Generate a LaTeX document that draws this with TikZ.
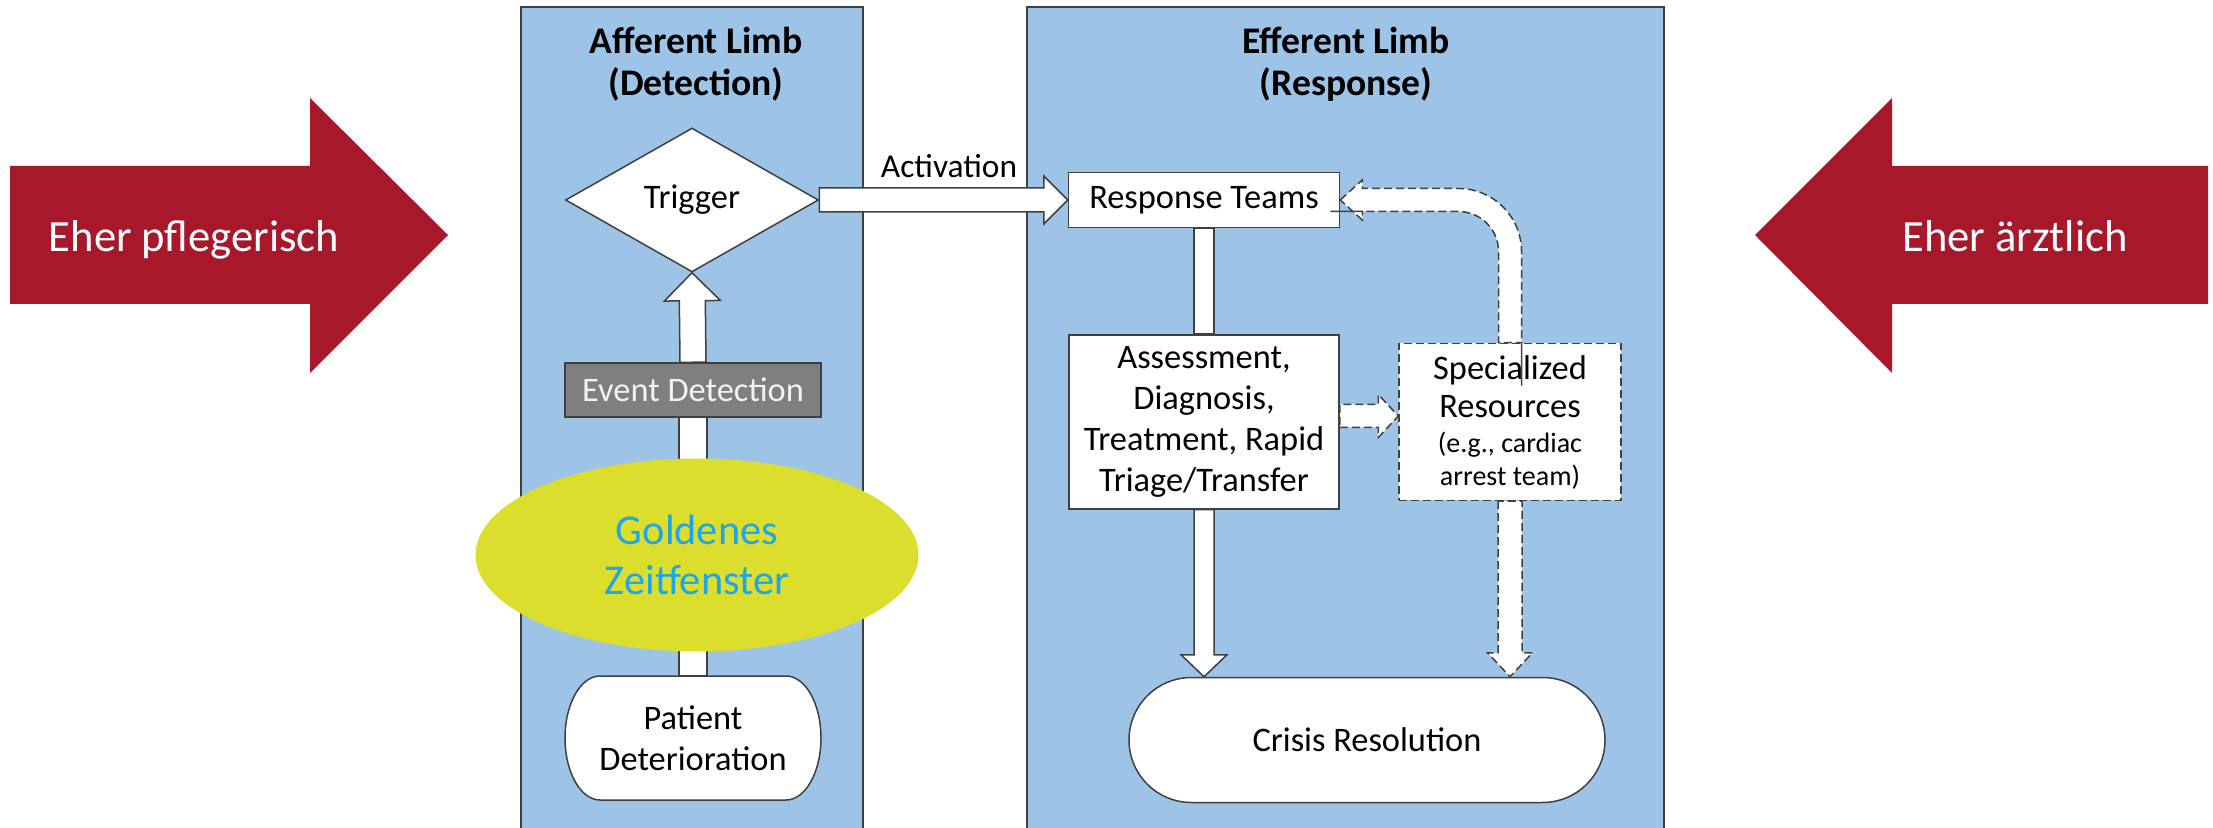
\documentclass[tikz,border=0pt]{standalone}
\usepackage{fontspec}
\setmainfont{Carlito}
\usetikzlibrary{shapes.geometric,shapes.misc,calc}

\definecolor{arrowred}{HTML}{A8182B}
\definecolor{limbblue}{HTML}{9DC3E6}
\definecolor{limbline}{HTML}{404040}
\definecolor{evtgray}{HTML}{7F7F7F}
\definecolor{evttext}{HTML}{F2F2F2}
\definecolor{goldfill}{HTML}{DBDE2C}
\definecolor{goldtext}{HTML}{1BA6EE}

\newcommand{\px}{0.5pt}
\newcommand{\smalltxt}{\fontsize{14}{16}\selectfont}
% block arrow: [style]{from}{to}{shaft half}{head half}{head length}, sizes in px
\newcommand{\fatarrow}[6][]{%
  \draw[fat,#1] let \p1=(#2), \p2=(#3),
      \n1={atan2(\y2-\y1,\x2-\x1)}, \n2={veclen(\x2-\x1,\y2-\y1)} in
    ([shift={(\p1)},rotate=\n1] 0pt,-#4*\px)
    -- ([shift={(\p1)},rotate=\n1] \n2-#6*\px,-#4*\px)
    -- ([shift={(\p1)},rotate=\n1] \n2-#6*\px,-#5*\px)
    -- ([shift={(\p1)},rotate=\n1] \n2,0pt)
    -- ([shift={(\p1)},rotate=\n1] \n2-#6*\px,#5*\px)
    -- ([shift={(\p1)},rotate=\n1] \n2-#6*\px,#4*\px)
    -- ([shift={(\p1)},rotate=\n1] 0pt,#4*\px) -- cycle;
}

\begin{document}
\begin{tikzpicture}[x=0.5pt, y=-0.5pt,
    limb/.style={fill=limbblue, draw=limbline, line width=0.75pt},
    title/.style={align=center, font=\bfseries\fontsize{18.8}{21}\selectfont},
    box/.style={draw=limbline, fill=white, line width=0.75pt, inner sep=0pt,
      align=center, font=\fontsize{17.2}{20.5}\selectfont},
    fat/.style={draw=limbline, fill=white, line width=0.75pt, line join=miter},
    fatdash/.style={dash pattern=on 4pt off 2pt},
    side/.style={anchor=base, text=white, font=\fontsize{22.3}{26}\selectfont}]

        \useasboundingbox (0,0) rectangle (2213,828);

        %===========================
        % Side arrows
        %===========================
        \fill[arrowred] (10,166) -- (310,166) -- (310,98) -- (448,235) -- (310,373) -- (310,304) -- (10,304) -- cycle;
        \node[side] (nurse) at (194,252) {Eher pflegerisch};
        \fill[arrowred] (2208,166) -- (1892,166) -- (1892,98) -- (1755,235) -- (1892,373) -- (1892,304) -- (2208,304) -- cycle;
        \node[side] (doctor) at (2015,252) {Eher ärztlich};

        %===========================
        % Limbs
        %===========================
        \draw[limb] (521,835) rectangle (863,7);
        \draw[limb] (1027,835) rectangle (1664,7);
        \node[title] (afftitle) at (696,64) {Afferent Limb\\(Detection)};
        \node[title] (efftitle) at (1346,64) {Efferent Limb\\(Response)};

        % Afferent side
        \node (trig) at (692,200) [box, diamond, minimum width=126.5pt, minimum height=72pt] {Trigger};
        \node (evt) at (693,390) [box, fill=evtgray, text=evttext, minimum width=128pt, minimum height=27pt] {Event Detection};
        \draw[fat] (600,676) -- (786,676) arc[start angle=90, end angle=-90, x radius=17.5pt, y radius=31pt]
          -- (600,800) arc[start angle=270, end angle=90, x radius=17.5pt, y radius=31pt] -- cycle;
        \node (pat) at (693,738) [box, draw=none, fill=none, minimum width=128pt, minimum height=62pt] {Patient\\Deterioration};

        % Efferent side
        \node (teams) at (1204,200) [box, minimum width=135.5pt, minimum height=27.5pt] {Response Teams};
        \node (assess) at (1204,422) [box, minimum width=135pt, minimum height=87pt] {Assessment,\\Diagnosis,\\Treatment, Rapid\\Triage/Transfer};
        \node (spec) at (1510,422) [box, fatdash, minimum width=111pt, minimum height=78.5pt] {Specialized\\[-1.4pt]Resources\\[-3.1pt]\smalltxt (e.g., cardiac\\[-4pt]\smalltxt arrest team)};
        \node (crisis) at (1367,740) [box, rounded rectangle, minimum width=238pt, minimum height=62.5pt] {Crisis Resolution};
        \node (act) at (949,166) [font=\fontsize{16.7}{20}\selectfont] {Activation};

        %===========================
        % Block arrows
        %===========================
        \fatarrow{pat.north}{evt.south}{14}{14}{0}
        \fatarrow{evt.north}{trig.south}{13}{28}{28}
        \fatarrow{trig.east}{teams.west}{12}{24}{24}
        \fatarrow{teams.south}{assess.north}{10}{10}{0}
        \fatarrow{assess.south}{assess.south |- crisis.north}{10}{23}{22}
        \fatarrow[fatdash]{$(assess.east)+(0,-6)$}{$(spec.west)+(0,-6)$}{11.5}{21.5}{20}
        \fatarrow[fatdash]{spec.south}{spec.south |- crisis.north}{12}{22.5}{24}

        % back to the teams
        \draw[fat, fatdash] let \p1=(teams.east), \p2=(spec.north) in
          (\p1) -- (\x1+22*\px,\y1+20*\px) -- (\x1+22*\px,\y1+11.5*\px) -- (\x1+30*\px,\y1+11.5*\px)
          [rounded corners=31.5pt] -- (\x2+11.5*\px,\y1+11.5*\px) -- (\x2+11.5*\px,\y2+10pt) [sharp corners]
          -- (\x2+11.5*\px,\y2) -- (\x2-11.5*\px,\y2) -- (\x2-11.5*\px,\y2+10pt)
          [rounded corners=20pt] -- (\x2-11.5*\px,\y1-11.5*\px) -- (\x1+30*\px,\y1-11.5*\px) [sharp corners]
          -- (\x1+22*\px,\y1-11.5*\px) -- (\x1+22*\px,\y1-20*\px) -- cycle;

        % golden window
        \node (golden) at (697,555) [ellipse, fill=goldfill, minimum width=221.5pt, minimum height=96.5pt, inner sep=0pt,
          align=center, text=goldtext, font=\fontsize{21.2}{25}\selectfont] {Goldenes\\Zeitfenster};
\end{tikzpicture}
\end{document}
